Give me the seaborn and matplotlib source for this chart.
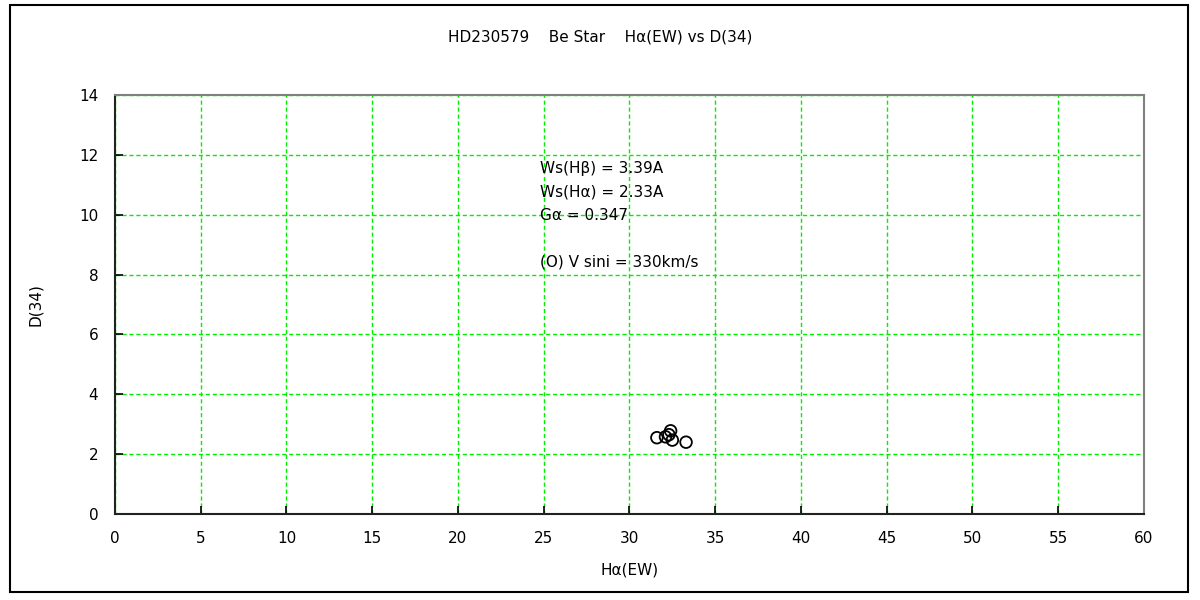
import matplotlib
matplotlib.use("Agg")
import matplotlib.pyplot as plt
import seaborn as sns
import pandas as pd
from matplotlib.patches import Rectangle

# Data
ha_ew = [31.6, 32.1, 32.4, 32.3, 32.5, 33.3]
d34 = [2.55, 2.58, 2.78, 2.65, 2.47, 2.40]

x_ticks = list(range(0, 61, 5))
y_ticks = list(range(0, 15, 2))

title = "HD230579    Be Star    H\u03b1(EW) vs D(34)"
notes = [
    "Ws(H\u03b2) = 3.39A",
    "Ws(H\u03b1) = 2.33A",
    "G\u03b1 = 0.347",
    "",
    "(O) V sini = 330km/s",
]

df = pd.DataFrame({"Ha_EW": ha_ew, "D34": d34})

sns.set_style("white")
plt.rcParams["font.family"] = ["DejaVu Sans"]
plt.rcParams["font.size"] = 11
plt.rcParams["text.color"] = "black"
plt.rcParams["axes.labelcolor"] = "black"
plt.rcParams["xtick.color"] = "black"
plt.rcParams["ytick.color"] = "black"

fig = plt.figure(figsize=(12, 6), dpi=100)
ax = fig.add_axes([0.0958, 0.1433, 0.8575, 0.6984])

sns.scatterplot(data=df, x="Ha_EW", y="D34", ax=ax, marker="o", s=70,
                facecolor="none", edgecolor="black", linewidth=1.3, zorder=3)

ax.set_xlim(0, 60)
ax.set_ylim(0, 14)
ax.set_xticks(x_ticks)
ax.set_yticks(y_ticks)
ax.grid(True, color="#00ee00", linestyle=(0, (3, 2)), linewidth=1)
ax.tick_params(direction="in", length=6, width=1.2, color="black", pad=12,
               labelsize=11, bottom=True, left=True)

for side in ["left", "bottom"]:
    ax.spines[side].set_color("#222222")
    ax.spines[side].set_linewidth(1.5)
for side in ["top", "right"]:
    ax.spines[side].set_color("#808080")
    ax.spines[side].set_linewidth(1.5)

ax.set_xlabel("H\u03b1(EW)", fontsize=11, labelpad=12)
ax.set_ylabel("D(34)", fontsize=11, labelpad=26)
fig.text(0.5, 0.938, title, ha="center", va="center", fontsize=11)

for i, line in enumerate(notes):
    ax.text(24.8, 11.55 - i * 0.78, line, fontsize=11, va="center", ha="left")

# outer frame around the figure
fig.patches.append(Rectangle((0.008, 0.013), 0.982, 0.978, transform=fig.transFigure,
                             fill=False, edgecolor="black", linewidth=1.5))

fig.savefig("out.png", dpi=100)
